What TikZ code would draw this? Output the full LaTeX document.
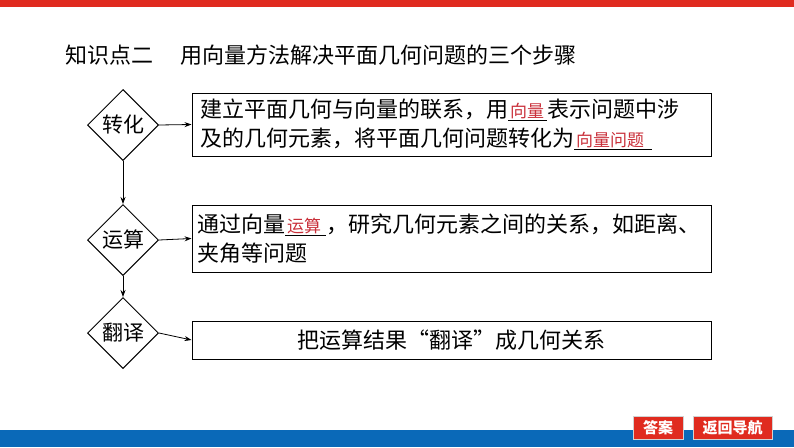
\documentclass[tikz,border=0pt]{standalone}
\usepackage{fontspec}
\setmainfont{Noto Sans CJK SC}
\usepackage{xcolor}
\usetikzlibrary{shapes.geometric,arrows.meta}
\definecolor{barred}{HTML}{E02B1F}
\definecolor{barblue}{HTML}{0A69B8}
\definecolor{fillred}{HTML}{C9303A}
\newcommand{\fillin}[2][3pt]{\underline{\hspace{2pt}\textcolor{fillred}{\fontsize{17pt}{20pt}\selectfont #2}\hspace{#1}}}
\tikzset{
  stepdiamond/.style={draw, line width=1pt, shape=diamond, aspect=1, inner sep=0pt,
    minimum width=71pt, minimum height=71pt, font=\fontsize{21pt}{24pt}\selectfont},
  stepbox/.style={draw, line width=1pt, minimum width=519pt, text width=509pt,
    inner xsep=5pt, align=left, font=\fontsize{22pt}{29pt}\selectfont},
  flowarrow/.style={line width=0.8pt, -{Stealth[length=7pt,width=5pt]}},
  navbtn/.style={fill=barred, draw=gray!35, line width=1pt, text=white, inner sep=0pt,
    minimum height=23pt, font=\fontsize{15pt}{17pt}\selectfont\bfseries}
}
\begin{document}
\begin{tikzpicture}[x=1pt,y=-1pt]
\useasboundingbox (0,0) rectangle (794,447);
% bars
\fill[barred] (0,0) rectangle (794,7);
\fill[barblue] (0,430) rectangle (794,447);
% title
\node[anchor=west, inner sep=0pt, font=\fontsize{22pt}{26pt}\selectfont] (title) at (65,55)
  {知识点二\hspace{27pt}用向量方法解决平面几何问题的三个步骤};
% steps
\node[stepdiamond] (zhuanhua) at (123,125) {转化};
\node[stepdiamond] (yunsuan) at (123,240) {运算};
\node[stepdiamond] (fanyi) at (123,333) {翻译};
\node[stepbox, minimum height=63pt] (box1) at (451.5,124.5)
  {\hspace{3pt}建立平面几何与向量的联系，用\fillin{向量}表示问题中涉\\
   \hspace{3pt}及的几何元素，将平面几何问题转化为\fillin[8pt]{向量问题}};
\node[stepbox, minimum height=67pt] (box2) at (451.5,238.5)
  {通过向量\fillin[5pt]{运算}，研究几何元素之间的关系，如距离、\\
   夹角等问题};
\node[stepbox, minimum height=38pt, align=center] (box3) at (451.5,340)
  {把运算结果“翻译”成几何关系};
% connectors
\draw[flowarrow] (zhuanhua.east) -- (box1.west);
\draw[flowarrow] (yunsuan.east) -- (box2.west);
\draw[flowarrow] (fanyi.east) -- (box3.west);
\draw[flowarrow] (zhuanhua.south) -- (yunsuan.north);
\draw[flowarrow] (yunsuan.south) -- (fanyi.north);
% navigation
\node[navbtn, minimum width=50pt] (answer) at (658,427.5) {答案};
\node[navbtn, minimum width=79pt] (backnav) at (732.5,427.5) {返回导航};
\end{tikzpicture}
\end{document}
